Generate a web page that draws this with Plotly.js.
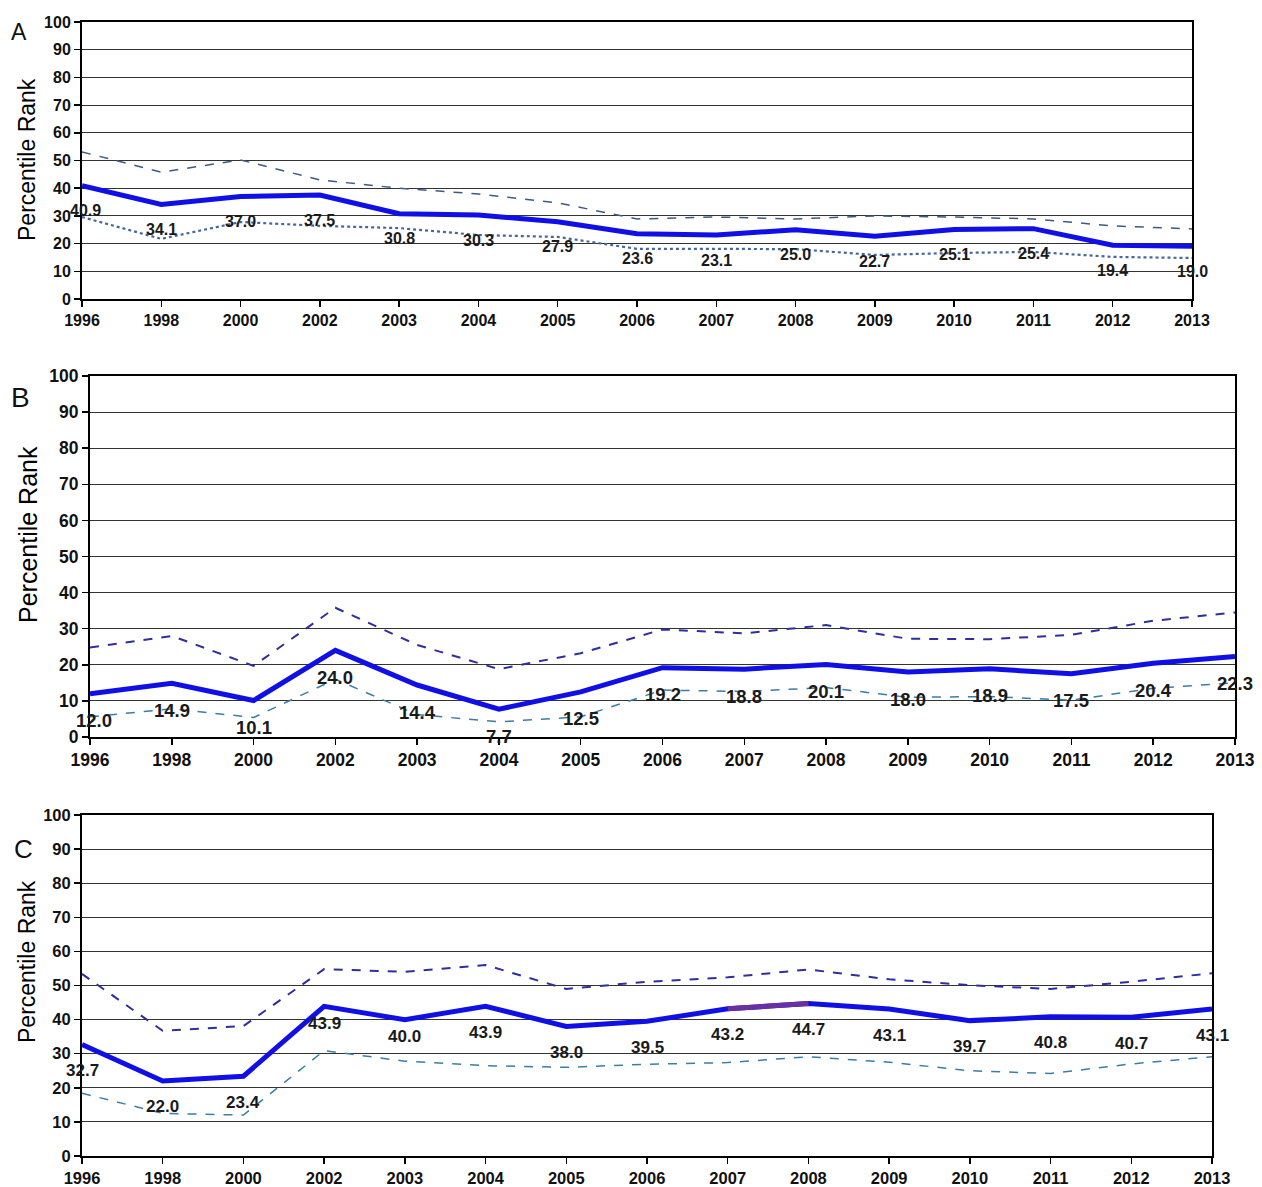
<!DOCTYPE html>
<html>
<head>
<meta charset="utf-8">
<script src="https://cdn.plot.ly/plotly-3.0.1.min.js"></script>
<style>
  html, body { margin: 0; padding: 0; background: #fff; }
  #chart { width: 1262px; height: 1187px; }
</style>
</head>
<body>
<div id="chart"></div>
<script>
// ---- data ----
const years = ['1996','1998','2000','2002','2003','2004','2005','2006','2007','2008','2009','2010','2011','2012','2013'];
const yTicks = [0,10,20,30,40,50,60,70,80,90,100];

const aRank  = [40.9,34.1,37.0,37.5,30.8,30.3,27.9,23.6,23.1,25.0,22.7,25.1,25.4,19.4,19.0];
const aUpper = [53.1,45.8,50.2,43.0,40.0,37.9,34.7,28.9,29.6,28.9,30.0,29.6,28.9,26.4,25.3];
const aLower = [29.6,21.7,27.8,26.4,25.6,23.1,22.4,18.1,18.1,18.0,15.9,16.6,17.0,15.2,14.8];

const bRank  = [12.0,14.9,10.1,24.0,14.4,7.7,12.5,19.2,18.8,20.1,18.0,18.9,17.5,20.4,22.3];
const bUpper = [24.8,28.0,19.7,35.8,25.5,18.8,23.2,29.8,28.7,31.0,27.2,27.1,28.3,32.2,34.5];
const bLower = [5.6,7.8,5.4,16.0,6.2,4.2,5.6,13.0,12.6,13.7,11.0,11.2,10.2,13.5,15.0];

const cRank  = [32.7,22.0,23.4,43.9,40.0,43.9,38.0,39.5,43.2,44.7,43.1,39.7,40.8,40.7,43.1];
const cUpper = [53.4,36.7,38.1,54.8,54.0,56.0,49.0,51.1,52.4,54.7,51.8,50.1,49.0,51.1,53.6];
const cLower = [18.4,12.5,12.0,30.9,27.8,26.5,26.0,26.9,27.4,29.1,27.5,25.0,24.2,27.0,29.1];

const panelLetters = ['A','B','C'];
const yTitle = 'Percentile Rank';

// ---- styling ----
const FONT = 'Liberation Sans, Arial, sans-serif';
const W = 1262, H = 1187;
const px = (l, r) => [l / W, r / W];
const py = (top, bottom) => [1 - bottom / H, 1 - top / H];

const panels = [
  { key: '', rank: aRank, upper: aUpper, lower: aLower,
    dom: { x: px(82, 1192), y: py(22, 299) }, tickSize: 16, labelSize: 16, titleSize: 23, letterSize: 23,
    shift: -25, upperStyle: { color: '#3d5a85', width: 1.5, dash: 'dash' },
    lowerStyle: { color: '#45679a', width: 2.2, dash: 'dot' }, letterPos: [19, 32], titlePos: [27, 160],
    xShiftOverride: { '1996': 3 } },
  { key: '2', rank: bRank, upper: bUpper, lower: bLower,
    dom: { x: px(90, 1235), y: py(376, 737) }, tickSize: 17.5, labelSize: 18.5, titleSize: 25, letterSize: 28,
    shift: -27, upperStyle: { color: '#2e2e9e', width: 2, dash: 'dash' },
    lowerStyle: { color: '#3a7ea6', width: 1.5, dash: 'dash' }, letterPos: [20, 397], titlePos: [28, 535],
    xShiftOverride: { '1996': 4 } },
  { key: '3', rank: cRank, upper: cUpper, lower: cLower,
    dom: { x: px(82, 1212), y: py(815, 1156) }, tickSize: 16.5, labelSize: 17, titleSize: 23, letterSize: 26,
    shift: -26, upperStyle: { color: '#2e2e9e', width: 2, dash: 'dash' },
    lowerStyle: { color: '#3a7ea6', width: 1.5, dash: 'dash' }, letterPos: [23, 849], titlePos: [27, 962],
    shiftOverride: { '2002': -17, '2003': -17 } }
];

const traces = [];
const annotations = [];
const layout = {
  width: W, height: H,
  margin: { l: 0, r: 0, t: 0, b: 0 },
  paper_bgcolor: '#fff', plot_bgcolor: '#fff',
  showlegend: false,
  font: { family: FONT, color: '#111' },
  annotations: annotations
};

panels.forEach((p, idx) => {
  const xa = 'x' + p.key, ya = 'y' + p.key;
  traces.push({ x: years, y: p.upper, xaxis: xa, yaxis: ya, type: 'scatter', mode: 'lines',
    line: p.upperStyle, hoverinfo: 'skip' });
  traces.push({ x: years, y: p.lower, xaxis: xa, yaxis: ya, type: 'scatter', mode: 'lines',
    line: p.lowerStyle, hoverinfo: 'skip' });
  traces.push({ x: years, y: p.rank, xaxis: xa, yaxis: ya, type: 'scatter', mode: 'lines',
    line: { color: '#1010e6', width: 5 } });
  if (idx === 2) {
    // highlighted segment 2007-2008
    traces.push({ x: years.slice(8, 10), y: p.rank.slice(8, 10), xaxis: xa, yaxis: ya, type: 'scatter',
      mode: 'lines', line: { color: '#6a2fa0', width: 5 } });
  }
  p.rank.forEach((v, i) => {
    const s = (p.shiftOverride && p.shiftOverride[years[i]] !== undefined) ? p.shiftOverride[years[i]] : p.shift;
    const xs = (p.xShiftOverride && p.xShiftOverride[years[i]] !== undefined) ? p.xShiftOverride[years[i]] : 0;
    annotations.push({ xref: xa, yref: ya, x: i, y: v, text: v.toFixed(1), showarrow: false,
      xanchor: 'center', yanchor: 'middle', yshift: s, xshift: xs,
      font: { family: FONT, size: p.labelSize, color: '#1a1a1a', weight: 'bold' } });
  });
  annotations.push({ xref: 'paper', yref: 'paper', x: p.letterPos[0] / W, y: 1 - p.letterPos[1] / H,
    text: panelLetters[idx], showarrow: false, xanchor: 'center', yanchor: 'middle',
    font: { family: FONT, size: p.letterSize, color: '#111' } });
  annotations.push({ xref: 'paper', yref: 'paper', x: p.titlePos[0] / W, y: 1 - p.titlePos[1] / H,
    text: yTitle, showarrow: false, textangle: -90, xanchor: 'center', yanchor: 'middle',
    font: { family: FONT, size: p.titleSize, color: '#000' } });

  layout['xaxis' + p.key] = {
    domain: p.dom.x, anchor: ya, type: 'category', range: [0, years.length - 1],
    showgrid: false, zeroline: false, showline: true, linecolor: '#000', linewidth: 2, mirror: true,
    ticks: 'outside', ticklen: 6, tickcolor: '#000', tickwidth: 1.5,
    tickfont: { family: FONT, size: p.tickSize, color: '#111', weight: 'bold' }, fixedrange: true
  };
  layout['yaxis' + p.key] = {
    domain: p.dom.y, anchor: xa, range: [0, 100], tickvals: yTicks, ticktext: yTicks.map(String),
    showgrid: true, gridcolor: '#333', gridwidth: 1, zeroline: false,
    showline: true, linecolor: '#000', linewidth: 2, mirror: true,
    ticks: 'outside', ticklen: 6, tickcolor: '#000', tickwidth: 1.5,
    tickfont: { family: FONT, size: p.tickSize, color: '#111', weight: 'bold' },
    fixedrange: true
  };
});

Plotly.newPlot('chart', traces, layout, { staticPlot: true, displayModeBar: false });
</script>
</body>
</html>
